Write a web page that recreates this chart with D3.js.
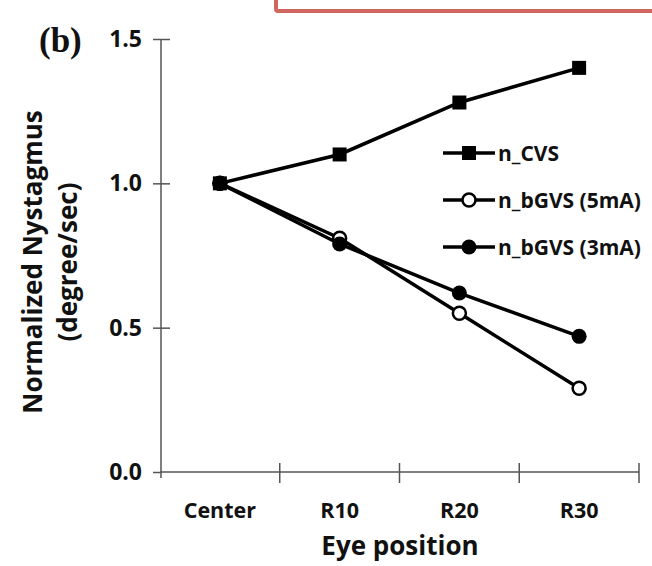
<!DOCTYPE html>
<head>
  <meta charset="utf-8">
  <script src="https://d3js.org/d3.v7.min.js"></script>
  <style>
    body { margin: 0; background: #fff; }
    .lbl { font-family: "Open Sans", sans-serif; font-weight: bold; fill: #111; }
    .axis path, .axis line { stroke: #555; stroke-width: 1.5; }
  </style>
</head>
<body>
<script>
  // data
  var positions = ["Center", "R10", "R20", "R30"];
  var cvs = [1.0, 1.10, 1.28, 1.40];
  var bgvs5 = [1.0, 0.81, 0.55, 0.29];
  var bgvs3 = [1.0, 0.79, 0.62, 0.47];
  var yTicks = [0, 0.5, 1.0, 1.5];

  var series = [
    {name: "n_CVS", values: cvs, shape: "square"},
    {name: "n_bGVS (5mA)", values: bgvs5, shape: "open"},
    {name: "n_bGVS (3mA)", values: bgvs3, shape: "filled"}
  ];

  var svg = d3.select("body").append("svg")
      .attr("width", 652)
      .attr("height", 566);

  // red frame peeking in from the top
  svg.append("rect")
      .attr("x", 276).attr("y", -20)
      .attr("width", 420).attr("height", 31)
      .attr("rx", 2)
      .attr("fill", "none")
      .attr("stroke", "#d06660")
      .attr("stroke-width", 4);

  svg.append("text")
      .attr("x", 39).attr("y", 52)
      .attr("font-family", "Liberation Serif, serif")
      .attr("font-weight", "bold")
      .attr("font-size", "35px")
      .attr("fill", "#111")
      .text("(b)");

  var x = d3.scaleBand().domain(positions).range([160, 639]);
  var y = d3.scaleLinear().domain([0, 1.5]).range([472, 39]);

  // y axis
  var yAxis = svg.append("g")
      .attr("class", "axis")
      .attr("transform", "translate(161,0)")
      .call(d3.axisLeft(y).tickValues(yTicks).tickFormat(d3.format(".1f")).tickSizeOuter(0));
  yAxis.select(".domain").attr("d", "M0," + y(1.5) + "V" + (y(0) + 6));
  yAxis.selectAll(".tick line").attr("x1", -8).attr("x2", function(d) { return d > 0 ? 9 : 0; });
  yAxis.selectAll(".tick text")
      .attr("class", "lbl")
      .attr("x", -19)
      .style("font-size", "23px")
      .attr("font-family", null);

  // x axis: labels centred in bands, ticks on the band edges
  var xAxis = svg.append("g")
      .attr("class", "axis")
      .attr("transform", "translate(0," + y(0) + ")")
      .call(d3.axisBottom(x).tickSize(0).tickSizeOuter(0));
  xAxis.select(".domain").attr("d", "M" + x.range()[0] + ",0H" + x.range()[1]);
  xAxis.selectAll(".tick text")
      .attr("class", "lbl")
      .attr("y", 31)
      .style("font-size", "21.5px")
      .attr("font-family", null);
  var edges = positions.map(function(p) { return x(p); }).slice(1).concat([x.range()[1]]);
  xAxis.selectAll(".edge")
      .data(edges)
    .enter().append("line")
      .attr("class", "edge")
      .attr("x1", function(d) { return d; })
      .attr("x2", function(d) { return d; })
      .attr("y1", -9).attr("y2", 11);

  svg.append("text")
      .attr("class", "lbl")
      .attr("x", 400).attr("y", 555)
      .attr("text-anchor", "middle")
      .style("font-size", "26px")
      .text("Eye position");

  svg.append("text")
      .attr("class", "lbl")
      .attr("transform", "translate(42,262) rotate(-90)")
      .attr("text-anchor", "middle")
      .style("font-size", "26px")
      .text("Normalized Nystagmus");
  svg.append("text")
      .attr("class", "lbl")
      .attr("transform", "translate(77,262) rotate(-90)")
      .attr("text-anchor", "middle")
      .style("font-size", "26px")
      .text("(degree/sec)");

  var cx = function(i) { return x(positions[i]) + x.bandwidth() / 2; };
  var line = d3.line()
      .x(function(d, i) { return cx(i); })
      .y(function(d) { return y(d); });

  function marker(g, shape, px, py) {
    if (shape === "square") {
      g.append("rect")
          .attr("x", px - 7).attr("y", py - 7)
          .attr("width", 14).attr("height", 14)
          .attr("fill", "#000");
    } else {
      g.append("circle")
          .attr("cx", px).attr("cy", py)
          .attr("r", shape === "open" ? 6.5 : 7.5)
          .attr("fill", shape === "open" ? "#fff" : "#000")
          .attr("stroke", "#000")
          .attr("stroke-width", shape === "open" ? 2.5 : 0);
    }
  }

  series.forEach(function(s) {
    var g = svg.append("g");
    g.append("path")
        .datum(s.values)
        .attr("d", line)
        .attr("fill", "none")
        .attr("stroke", "#000")
        .attr("stroke-width", 3.5);
    s.values.forEach(function(v, i) { marker(g, s.shape, cx(i), y(v)); });
  });

  // legend
  var legend = svg.append("g");
  series.forEach(function(s, i) {
    var ly = 153 + i * 47;
    legend.append("line")
        .attr("x1", 443).attr("x2", 495)
        .attr("y1", ly).attr("y2", ly)
        .attr("stroke", "#000").attr("stroke-width", 3.5);
    marker(legend, s.shape, 469, ly);
    legend.append("text")
        .attr("class", "lbl")
        .attr("x", 498).attr("y", ly)
        .attr("dy", "0.36em")
        .style("font-size", "21px")
        .text(s.name);
  });
</script>
</body>
